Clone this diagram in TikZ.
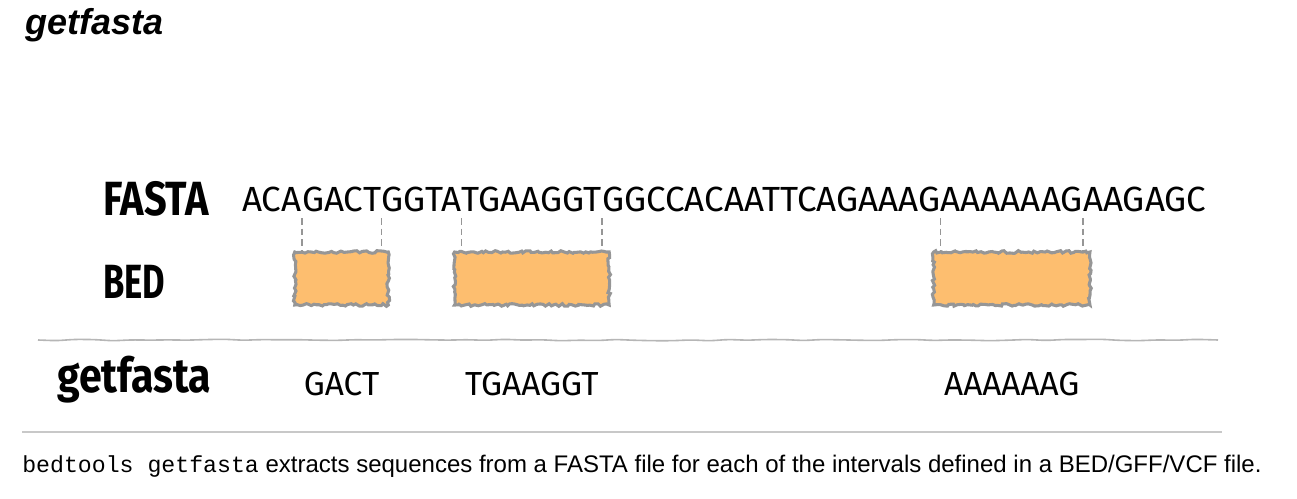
\documentclass[tikz,border=0pt]{standalone}
\usepackage{fontspec}
\setmainfont{Liberation Sans}
\setmonofont{Liberation Mono}
\newfontfamily\seqfont{Fira Sans}
\newfontfamily\handfont[FakeStretch=0.72]{Fira Sans}
\usetikzlibrary{positioning,calc,fit,decorations.pathmorphing}
\definecolor{bedorange}{RGB}{253,190,111}
\definecolor{edgegray}{RGB}{150,150,150}
\definecolor{rulegray}{RGB}{200,200,200}

\begin{document}
\begin{tikzpicture}[x=0.75pt,y=-0.75pt,
    seq/.style={inner sep=0pt,font=\seqfont\fontsize{26.2}{30}\selectfont},
    rowname/.style={anchor=base west,inner sep=0pt,font=\handfont\bfseries\fontsize{36}{40}\selectfont},
    result/.style={anchor=base,inner sep=0pt,font=\seqfont\fontsize{25}{28}\selectfont},
    bedbox/.style={fill=bedorange,draw=edgegray,line width=2.3pt,inner xsep=5.25pt,inner ysep=0pt,
        decorate,decoration={random steps,segment length=2pt,amplitude=1pt}},
    guide/.style={draw=edgegray,line width=1.2pt,dash pattern=on 5pt off 3pt}]
    \pgfmathsetseed{7}
    \useasboundingbox (0,0) rectangle (1297,499);

    \node[anchor=base west,inner sep=0pt,font=\bfseries\itshape\fontsize{27}{30}\selectfont] (title) at (25,35) {getfasta};

    \node[rowname] (fastaname) at (103,216) {\scalebox{1.15}[1]{FASTA}};
    \node[rowname] (bedname) at (103,299) {BED};
    \node[rowname] (getname) at (57,392) {\scalebox{1.19}[1]{getfasta}};

    % the sequence, cut where the intervals start and end
    \node[seq,anchor=base west] (s1) at (242,212) {ACA};
    \node[seq,base right=0pt of s1] (s2) {GACT};
    \node[seq,base right=0pt of s2] (s3) {GGTA};
    \node[seq,base right=0pt of s3] (s4) {TGAAGGT};
    \node[seq,base right=0pt of s4] (s5) {GGCCACAATTCAGAAAG};
    \node[seq,base right=0pt of s5] (s6) {AAAAAAG};
    \node[seq,base right=0pt of s6] (s7) {AAGAGC};

    % intervals
    \node[bedbox,fit={(s2.south west |- 0,252) (s2.south east |- 0,305)}] (g1) {};
    \node[bedbox,fit={(s4.south west |- 0,252) (s4.south east |- 0,305)}] (g2) {};
    \node[bedbox,fit={(s6.south west |- 0,252) (s6.south east |- 0,305)}] (g3) {};

    \draw[guide] ([yshift=-4pt]s2.south west) -- (s2.south west |- g1.north);
    \draw[guide] ([yshift=-4pt]s2.south east) -- (s2.south east |- g1.north);
    \draw[guide] ([yshift=-4pt]s4.south west) -- (s4.south west |- g2.north);
    \draw[guide] ([yshift=-4pt]s4.south east) -- (s4.south east |- g2.north);
    \draw[guide] ([yshift=-4pt]s6.south west) -- (s6.south west |- g3.north);
    \draw[guide] ([yshift=-4pt]s6.south east) -- (s6.south east |- g3.north);

    \draw[edgegray!70,line width=1.2pt,rounded corners=4pt,decorate,
        decoration={random steps,segment length=14pt,amplitude=0.6pt}] (38,340) -- (1218,340);

    \node[result] (r1) at (g1 |- 0,395) {GACT};
    \node[result] (r2) at (g2 |- 0,395) {TGAAGGT};
    \node[result] (r3) at (g3 |- 0,395) {AAAAAAG};

    \draw[rulegray,line width=1.5pt] (22,432) -- (1222,432);

    \node[anchor=base west,inner sep=0pt,font=\fontsize{18}{20}\selectfont] (caption) at (22,472)
        {\texttt{\fontsize{17.4}{20}\selectfont bedtools getfasta} extracts sequences from a FASTA file for each of the intervals defined in a BED/GFF/VCF file.};
\end{tikzpicture}
\end{document}
